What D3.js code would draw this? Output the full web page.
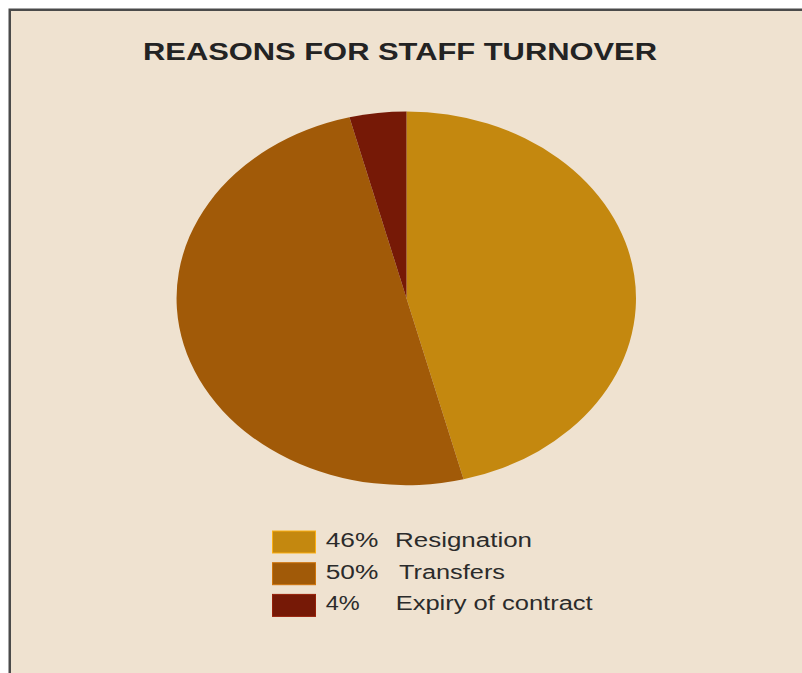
<!DOCTYPE html>
<html>
<head>
<meta charset="utf-8">
<script src="https://cdn.jsdelivr.net/npm/d3@7"></script>
<style>
  html, body { margin: 0; padding: 0; background: #ffffff; }
  svg { display: block; }
</style>
</head>
<body>
<div id="chart"></div>
<script>
// Turnover reasons, in percent
const reasons = ["Resignation", "Transfers", "Expiry of contract"];
const shares = [46, 50, 4];
const shareLabels = ["46%", "50%", "4%"];
const sliceColors = ["#c4880f", "#a15a08", "#761906"];
const title = "REASONS FOR STAFF TURNOVER";

const width = 802, height = 673;

const svg = d3.select("#chart").append("svg")
  .attr("width", width)
  .attr("height", height);

// Panel with a dark frame on the top and left
svg.append("rect")
  .attr("x", 9.75).attr("y", 9.75)
  .attr("width", width + 20).attr("height", height + 20)
  .attr("fill", "#efe2d0")
  .attr("stroke", "#4a4a4a")
  .attr("stroke-width", 2.5);

// Title, wide bold capitals
svg.append("text")
  .attr("x", 143).attr("y", 60)
  .attr("font-family", "Liberation Sans, Arial, sans-serif")
  .attr("font-weight", "bold")
  .attr("font-size", 24)
  .attr("fill", "#232323")
  .attr("textLength", 514)
  .attr("lengthAdjust", "spacingAndGlyphs")
  .text(title);

// Pie, drawn on a circle then stretched horizontally into an ellipse
const cx = 406.5, cy = 298.3, rx = 229.5, ry = 186.8;
const pie = d3.pie().sort(null).value(d => d);
const arc = d3.arc().innerRadius(0).outerRadius(ry);

const pieG = svg.append("g")
  .attr("transform", `translate(${cx},${cy}) scale(${rx / ry},1)`);

pieG.selectAll("path")
  .data(pie(shares))
  .join("path")
  .attr("d", arc)
  .attr("fill", (d, i) => sliceColors[i]);

// Legend
const legendX = 272.5, legendY0 = 531, legendStep = 31.7;
const swW = 43, swH = 22;
const pctWidths = [52.6, 52.6, 34];
const nameX = [395, 399, 395.7];
const nameWidths = [137, 106, 197];

const legend = svg.append("g");
const rows = legend.selectAll("g")
  .data(reasons)
  .join("g")
  .attr("transform", (d, i) => `translate(0,${legendY0 + i * legendStep})`);

rows.append("rect")
  .attr("x", legendX).attr("y", 0)
  .attr("width", swW).attr("height", swH)
  .attr("fill", (d, i) => sliceColors[i])
  .attr("stroke", (d, i) => d3.color(sliceColors[i]).brighter(0.7))
  .attr("stroke-width", 1);

rows.append("text")
  .attr("x", 325.7).attr("y", 16)
  .attr("font-family", "Liberation Sans, Arial, sans-serif")
  .attr("font-size", 20)
  .attr("fill", "#2b2b2b")
  .attr("textLength", (d, i) => pctWidths[i])
  .attr("lengthAdjust", "spacingAndGlyphs")
  .text((d, i) => shareLabels[i]);

rows.append("text")
  .attr("x", (d, i) => nameX[i]).attr("y", 16)
  .attr("font-family", "Liberation Sans, Arial, sans-serif")
  .attr("font-size", 20)
  .attr("fill", "#2b2b2b")
  .attr("textLength", (d, i) => nameWidths[i])
  .attr("lengthAdjust", "spacingAndGlyphs")
  .text(d => d);
</script>
</body>
</html>
